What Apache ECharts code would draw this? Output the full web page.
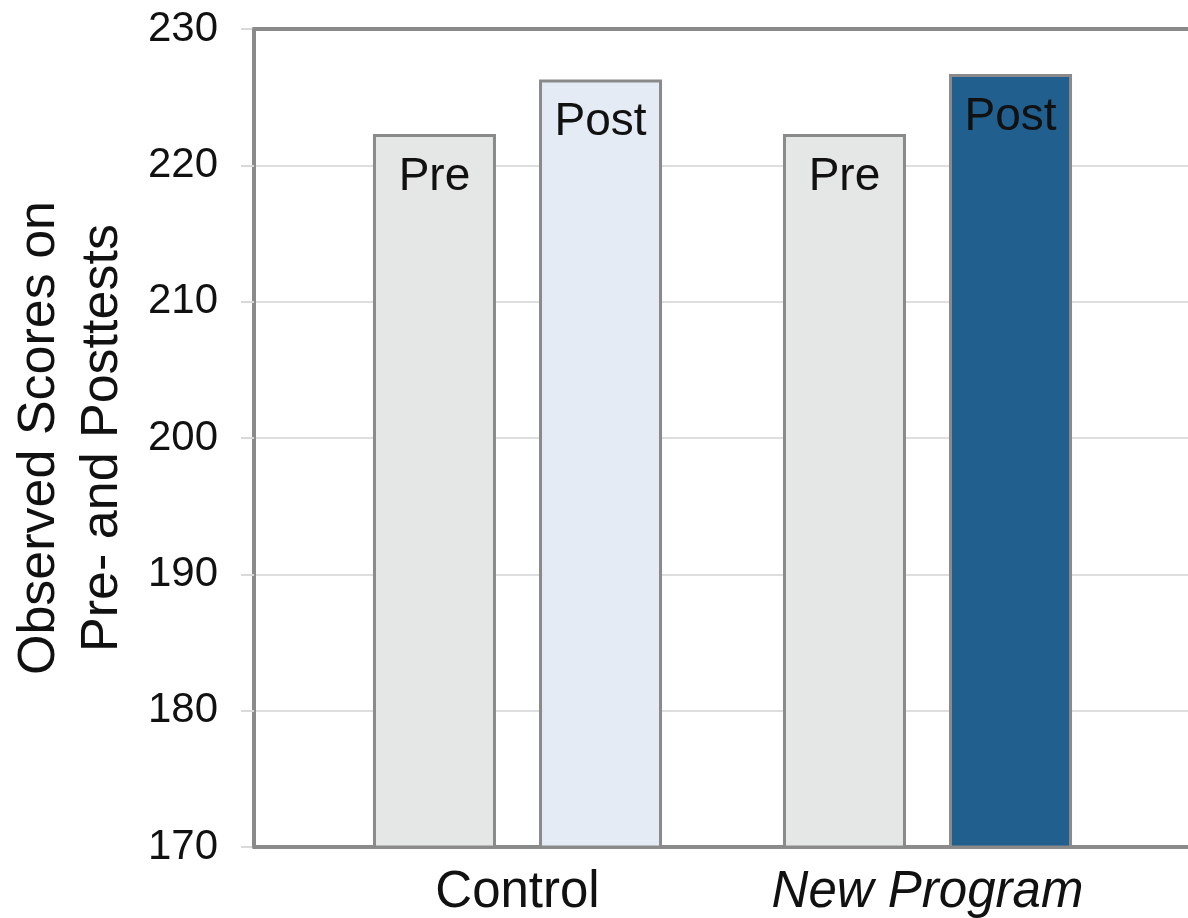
<!DOCTYPE html>
<html>
<head>
<meta charset="utf-8">
<script src="https://cdn.jsdelivr.net/npm/echarts@6/dist/echarts.min.js"></script>
<style>
html,body{margin:0;padding:0;background:#fff;}
#chart{width:1188px;height:918px;}
</style>
</head>
<body>
<div id="chart"></div>
<script>
const categories = ['Control', 'New Program'];
const preValues = [222.3, 222.3];
const postValues = [226.3, 226.7];
const postColors = ['#e4ebf4', '#215f8e'];
const yTicks = { min: 170, max: 230, interval: 10 };
const yTitle = 'Observed Scores on\nPre- and Posttests';

const FONT = '"Liberation Sans", Arial, sans-serif';
const FRAME = { color: '#8a8a8a', width: 4 };
const chart = echarts.init(document.getElementById('chart'), null, { renderer: 'canvas' });

const option = {
  backgroundColor: '#ffffff',
  animation: false,
  grid: [
    { left: 254, right: -20, top: 29, bottom: 71, outerBoundsMode: 'none', containLabel: false },
    { left: 312.5, right: 55.5, top: 29, bottom: 71, outerBoundsMode: 'none', containLabel: false }
  ],
  xAxis: [
    { gridIndex: 0, type: 'value', position: 'bottom', min: 0, max: 1, splitLine: { show: false },
      axisLabel: { show: false }, axisTick: { show: false }, axisLine: { show: true, lineStyle: FRAME }, z: 1 },
    { gridIndex: 0, type: 'value', position: 'top', min: 0, max: 1, splitLine: { show: false },
      axisLabel: { show: false }, axisTick: { show: false }, axisLine: { show: true, lineStyle: FRAME }, z: 1 },
    {
      gridIndex: 1, type: 'category', data: categories,
      axisLine: { show: false }, axisTick: { show: false },
      axisLabel: {
        margin: 20,
        formatter: function (v) { return v === 'New Program' ? '{i|' + v + '}' : '{n|' + v + '}'; },
        rich: {
          n: { fontSize: 51, fontFamily: FONT, color: '#111' },
          i: { fontSize: 51, fontFamily: FONT, color: '#111', fontStyle: 'italic' }
        }
      }
    }
  ],
  yAxis: [
    {
      gridIndex: 0, type: 'value', min: yTicks.min, max: yTicks.max, interval: yTicks.interval,
      axisLine: { show: true, lineStyle: FRAME },
      axisTick: { show: true, length: 13, lineStyle: { color: '#d9d9d9', width: 2 } },
      splitLine: { show: true, lineStyle: { color: '#dedede', width: 2 } },
      axisLabel: { fontSize: 42, fontFamily: FONT, color: '#111', margin: 36 },
      name: yTitle, nameLocation: 'middle', nameGap: 120,
      nameTextStyle: { fontSize: 52, fontFamily: FONT, color: '#111', lineHeight: 63 },
      z: 0
    },
    { gridIndex: 1, type: 'value', min: yTicks.min, max: yTicks.max, interval: yTicks.interval, show: false }
  ],
  series: [
    {
      name: 'Pre', type: 'bar', xAxisIndex: 2, yAxisIndex: 1, z: 3,
      data: preValues,
      barWidth: 123, barGap: '35%',
      itemStyle: { color: '#e5e7e6', borderColor: '#8a8a8a', borderWidth: 3 },
      label: { show: true, position: 'insideTop', distance: 20, formatter: 'Pre', fontSize: 46, fontFamily: FONT, color: '#111' }
    },
    {
      name: 'Post', type: 'bar', xAxisIndex: 2, yAxisIndex: 1, z: 3,
      data: postValues.map((v, i) => ({ value: v, itemStyle: { color: postColors[i] } })),
      barWidth: 123, barGap: '35%',
      itemStyle: { borderColor: '#8a8a8a', borderWidth: 3 },
      label: { show: true, position: 'insideTop', distance: 20, formatter: 'Post', fontSize: 46, fontFamily: FONT, color: '#111' }
    }
  ]
};
chart.setOption(option);
</script>
</body>
</html>
